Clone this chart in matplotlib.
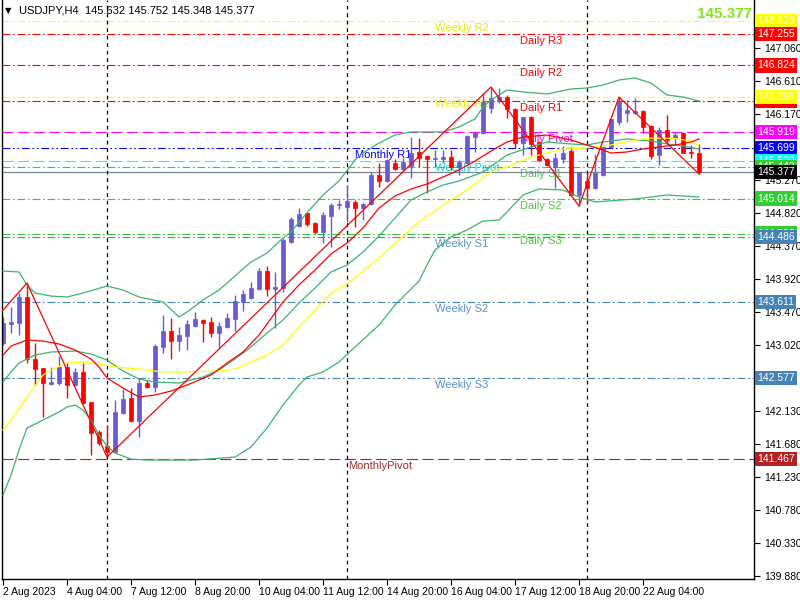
import matplotlib
matplotlib.use('Agg')
import matplotlib.pyplot as plt

plt.rcParams['font.family'] = ['Liberation Sans', 'DejaVu Sans']

# свечи USDJPY H4 слева направо (88 баров, с 2 Aug 20:00)
opens = [143.049, 143.308, 143.321, 143.675, 142.832, 142.709, 142.492, 142.505, 142.723, 142.478,
         142.655, 142.247, 141.839, 141.648, 141.567, 142.097, 142.301, 141.988, 142.505, 142.451,
         142.995, 143.212, 143.076, 143.144, 143.280, 143.362, 143.335, 143.185, 143.267, 143.376,
         143.607, 143.661, 143.784, 144.028, 143.784, 143.797, 144.423, 144.640, 144.817, 144.681,
         144.559, 144.776, 144.926, 144.899, 144.967, 144.885, 144.940, 145.334, 145.252, 145.497,
         145.416, 145.456, 145.647, 145.592, 145.552, 145.552, 145.579, 145.443, 145.497, 145.851,
         145.905, 146.245, 146.354, 146.395, 146.232, 145.769, 146.123, 145.783, 145.552, 145.443,
         145.552, 145.660, 145.062, 145.252, 145.157, 145.334, 145.715, 146.055, 146.177, 146.177,
         146.204, 146.000, 145.606, 145.946, 145.837, 145.905, 145.647, 145.632]
highs = [143.403, 143.539, 143.729, 143.865, 143.049, 142.709, 142.723, 142.872, 142.777, 142.709,
         142.777, 142.247, 141.866, 141.934, 142.274, 142.424, 142.437, 142.573, 142.546, 143.036,
         143.430, 143.389, 143.267, 143.362, 143.471, 143.376, 143.403, 143.335, 143.457, 143.702,
         143.770, 143.879, 144.069, 144.096, 144.015, 144.477, 144.763, 144.885, 144.831, 144.695,
         144.831, 144.953, 144.994, 145.198, 144.994, 144.953, 145.375, 145.497, 145.552, 145.552,
         145.565, 145.851, 145.837, 145.606, 145.674, 145.674, 145.674, 145.538, 145.878, 145.919,
         146.449, 146.531, 146.517, 146.422, 146.245, 146.123, 146.136, 145.796, 145.565, 145.633,
         145.728, 145.715, 145.375, 145.361, 145.620, 145.715, 146.096, 146.395, 146.354, 146.381,
         146.218, 146.014, 145.987, 146.150, 145.919, 145.919, 145.742, 145.752]
lows = [143.022, 143.185, 143.158, 142.777, 142.478, 142.043, 142.478, 142.478, 142.301, 142.464,
        142.233, 141.526, 141.662, 141.499, 141.553, 142.084, 141.975, 141.771, 142.437, 142.383,
        142.913, 142.832, 142.940, 142.954, 143.267, 143.063, 143.131, 142.981, 143.253, 143.212,
        143.484, 143.648, 143.770, 143.688, 143.253, 143.743, 144.409, 144.627, 144.640, 144.532,
        144.409, 144.355, 144.872, 144.695, 144.627, 144.722, 144.926, 145.171, 145.239, 145.402,
        145.402, 145.293, 145.443, 145.089, 145.443, 145.497, 145.402, 145.334, 145.484, 145.647,
        145.892, 146.177, 146.313, 146.109, 145.701, 145.606, 145.606, 145.524, 145.456, 145.157,
        145.497, 145.062, 144.912, 144.953, 145.144, 145.320, 145.701, 146.014, 146.055, 146.164,
        145.905, 145.552, 145.470, 145.769, 145.742, 145.633, 145.565, 145.348]
closes = [143.321, 143.335, 143.675, 142.832, 142.696, 142.505, 142.519, 142.723, 142.478, 142.655,
          142.233, 141.825, 141.689, 141.567, 142.111, 142.288, 141.988, 142.505, 142.451, 143.008,
          143.212, 143.076, 143.158, 143.308, 143.376, 143.321, 143.185, 143.280, 143.389, 143.620,
          143.716, 143.797, 144.028, 143.784, 143.811, 144.450, 144.736, 144.804, 144.668, 144.559,
          144.790, 144.926, 144.940, 144.980, 144.885, 144.940, 145.334, 145.252, 145.538, 145.416,
          145.511, 145.633, 145.565, 145.552, 145.565, 145.579, 145.443, 145.511, 145.864, 145.905,
          146.327, 146.381, 146.395, 146.232, 145.769, 146.123, 145.756, 145.538, 145.470, 145.565,
          145.633, 145.062, 145.375, 145.157, 145.361, 145.715, 146.096, 146.327, 146.218, 146.204,
          145.987, 145.592, 145.946, 145.810, 145.878, 145.633, 145.633, 145.377]

# подписи времени и разделители недель (номера баров)
time_label_bars = [0, 8, 16, 24, 32, 40, 48, 56, 64, 72, 80]
time_labels = ['2 Aug 2023', '4 Aug 04:00', '7 Aug 12:00', '8 Aug 20:00', '10 Aug 04:00',
               '11 Aug 12:00', '14 Aug 20:00', '16 Aug 04:00', '17 Aug 12:00', '18 Aug 20:00',
               '22 Aug 04:00']
week_start_bars = [13, 43, 73]

# индикаторы: номер бара -> цена
bb_upper_bars = [0, 2, 3, 4, 6, 8, 10, 13, 15, 17, 20, 22, 23, 25, 27, 29, 31, 33, 35, 36,
                 38, 40, 42, 44, 45, 47, 49, 51, 53, 55, 57, 59, 60, 61, 62, 63, 65, 68, 71, 73,
                 75, 77, 79, 81, 83, 85, 87]
bb_upper = [144.028, 144.015, 143.838, 143.729, 143.688, 143.675, 143.729, 143.824, 143.770, 143.675,
            143.607, 143.403, 143.471, 143.634, 143.770, 143.960, 144.151, 144.273, 144.477, 144.559,
            144.821, 145.062, 145.252, 145.538, 145.633, 145.769, 145.878, 145.919, 145.919, 145.919,
            145.987, 146.096, 146.259, 146.354, 146.422, 146.490, 146.463, 146.436, 146.504, 146.517,
            146.558, 146.626, 146.653, 146.585, 146.422, 146.395, 146.340]
bb_lower_bars = [0, 1, 2, 3, 5, 7, 8, 9, 10, 11, 12, 13, 14, 16, 18, 24, 29, 31, 33, 35,
                 37, 38, 40, 42, 44, 47, 49, 52, 53, 54, 56, 58, 60, 62, 63, 65, 67, 70, 72, 74,
                 79, 83, 87]
bb_lower = [140.982, 141.254, 141.594, 141.893, 142.002, 142.111, 142.179, 142.206, 142.138, 142.002,
            141.798, 141.648, 141.553, 141.470, 141.458, 141.458, 141.499, 141.635, 141.893, 142.206,
            142.478, 142.587, 142.655, 142.791, 142.995, 143.294, 143.566, 143.892, 144.110, 144.314,
            144.491, 144.586, 144.708, 144.722, 144.831, 145.062, 145.144, 145.130, 145.035, 144.967,
            145.008, 145.062, 145.035]
bb_mid_bars = [0, 1, 2, 4, 6, 9, 11, 13, 15, 17, 19, 22, 25, 27, 29, 31, 33, 35, 37, 39,
               41, 43, 45, 47, 49, 51, 53, 55, 57, 60, 63, 66, 68, 71, 73, 75, 78, 81, 83, 85, 87]
bb_mid = [142.519, 142.655, 142.777, 142.886, 142.927, 142.940, 142.900, 142.818, 142.668, 142.560,
          142.519, 142.505, 142.587, 142.682, 142.832, 142.995, 143.185, 143.362, 143.593, 143.797,
          144.015, 144.110, 144.287, 144.504, 144.749, 144.994, 145.103, 145.198, 145.252, 145.375,
          145.606, 145.715, 145.783, 145.756, 145.742, 145.783, 145.824, 145.796, 145.756, 145.728,
          145.688]
ma_red_bars = [0, 1, 3, 5, 7, 9, 11, 12, 13, 15, 17, 19, 21, 23, 26, 28, 30, 32, 34, 35,
               37, 39, 41, 43, 45, 47, 49, 51, 53, 55, 57, 59, 61, 63, 65, 68, 71, 73, 75, 76,
               78, 80, 82, 84, 86, 87]
ma_red = [142.886, 143.008, 143.090, 143.076, 143.036, 142.954, 142.832, 142.723, 142.573, 142.437,
          142.315, 142.342, 142.396, 142.478, 142.614, 142.777, 142.927, 143.158, 143.457, 143.607,
          143.838, 144.042, 144.260, 144.409, 144.613, 144.885, 145.048, 145.144, 145.212, 145.307,
          145.402, 145.524, 145.660, 145.783, 145.851, 145.878, 145.810, 145.742, 145.674, 145.633,
          145.647, 145.688, 145.715, 145.742, 145.783, 145.824]
ma_yellow_bars = [0, 1, 3, 5, 6, 8, 10, 12, 14, 17, 20, 22, 27, 29, 31, 33, 35, 37, 39, 41,
                  43, 45, 47, 50, 52, 55, 58, 61, 64, 66, 70, 73, 76, 79, 81, 84, 86, 87]
ma_yellow = [141.866, 142.002, 142.315, 142.614, 142.682, 142.777, 142.791, 142.764, 142.723, 142.696,
             142.655, 142.655, 142.668, 142.696, 142.791, 142.886, 143.022, 143.267, 143.498, 143.729,
             143.852, 144.028, 144.205, 144.504, 144.695, 144.926, 145.130, 145.375, 145.484, 145.579,
             145.688, 145.701, 145.742, 145.810, 145.837, 145.830, 145.796, 145.728]
zigzag_bars = [-1, 3, 13, 61, 72, 77, 87]
zigzag_prices = [143.376, 143.865, 141.499, 146.531, 144.912, 146.395, 145.348]

# уровни пивотов
level_names = ['Weekly R2', 'Daily R3', 'Daily R2', 'Daily R1', 'Weekly R1', 'Daily Pivot',
               'Monthly R1', 'Weekly Pivot', 'Daily S1', 'Daily S2', 'Daily S3', 'Weekly S1',
               'Weekly S2', 'Weekly S3', 'MonthlyPivot']
level_prices = [147.429, 147.255, 146.824, 146.338, 146.395, 145.919, 145.699, 145.520, 145.443,
                145.014, 144.538, 144.486, 143.611, 142.577, 141.467]
last_price = 145.377
price_ticks = [147.510, 147.060, 146.610, 146.170, 145.720, 145.270, 144.820, 144.370, 143.920,
               143.470, 143.020, 142.570, 142.130, 141.680, 141.230, 140.780, 140.330, 139.880]
# эти подписи шкалы закрыты метками уровней
hidden_ticks = [147.510, 145.720, 142.570]

# стиль для каждого вида уровня: цвет линии, стиль, цвет текста, x подписи
dashdot = (0, (7, 2.5, 1.5, 2.5))
dashdotdot = (0, (7, 2.5, 1.5, 2.5, 1.5, 2.5))
dashed = (0, (10, 4))
style = {
    'Weekly R': ('#FFFF00', dashdot, '#E8E800', 54),
    'Daily R': ('#FF0000', dashdot, '#FF0000', 64.6),
    'Daily Pivot': ('#FF00FF', dashed, '#FF00FF', 64.6),
    'Monthly R1': ('#0000FF', dashdotdot, '#0000FF', 44),
    'Weekly Pivot': ('#00FFFF', dashed, '#00E0E0', 54),
    'Daily S': ('#32CD32', dashdot, '#4CC83A', 64.6),
    'Weekly S': ('#4682B4', dashdot, '#5B8FC9', 54),
    'MonthlyPivot': ('#B22222', dashed, '#A52A2A', 43.1),
}

fig = plt.figure(figsize=(8, 6), dpi=100)
ax = fig.add_axes([2 / 800, 21 / 600, 752 / 800, 579 / 600])
ax.set_xlim(-0.125, 93.875)
ax.set_ylim(139.840, 147.714)

# уровни
for name, price in zip(level_names, level_prices):
    key = name
    for k in style:
        if name.startswith(k):
            key = k
    lc, ls, tc, tx = style[key]
    ax.axhline(price, color=lc, ls=ls, lw=0.8, zorder=1)
    ax.annotate(name, (tx, price), xytext=(0, -1.5), textcoords='offset points',
                ha='left', va='top', fontsize=8, color=tc, zorder=1)
    ax.text(1.004, price, '%.3f' % price, transform=ax.get_yaxis_transform(),
            ha='left', va='center', fontsize=7.5, color='white', clip_on=False, zorder=5,
            bbox=dict(boxstyle='square,pad=0.2', fc=lc, ec='none'))

# текущая цена
ax.axhline(last_price, color='#778899', lw=0.9, zorder=1)
ax.text(1.004, last_price, '%.3f' % last_price, transform=ax.get_yaxis_transform(),
        ha='left', va='center', fontsize=7.5, color='white', clip_on=False, zorder=6,
        bbox=dict(boxstyle='square,pad=0.2', fc='black', ec='none'))

# разделители недель
for b in week_start_bars:
    ax.axvline(b, color='black', ls=(0, (3, 3)), lw=0.9, zorder=1.5)

# свечи
for i in range(len(opens)):
    o, h, l, c = opens[i], highs[i], lows[i], closes[i]
    col = '#6A5ACD' if c > o else '#FF0000'
    ax.vlines(i, l, h, color=col, lw=1, zorder=2)
    ax.bar(i, max(abs(c - o), 0.004), bottom=min(o, c), width=0.58, color=col,
           edgecolor=col, lw=0.5, zorder=2)

# индикаторы
ax.plot(bb_upper_bars, bb_upper, color='#3CB371', lw=0.9, zorder=3)
ax.plot(bb_lower_bars, bb_lower, color='#3CB371', lw=0.9, zorder=3)
ax.plot(bb_mid_bars, bb_mid, color='#3CB371', lw=0.9, zorder=3)
ax.plot(ma_yellow_bars, ma_yellow, color='#FFFF00', lw=0.9, zorder=3)
ax.plot(ma_red_bars, ma_red, color='#FF0000', lw=0.9, zorder=3)
ax.plot(zigzag_bars, zigzag_prices, color='#FF0000', lw=0.9, zorder=3)

# оси
ax.yaxis.tick_right()
ax.set_yticks(price_ticks)
ax.set_yticklabels(['' if p in hidden_ticks else '%.3f' % p for p in price_ticks])
ax.tick_params(axis='y', length=4, pad=3, labelsize=7.5, colors='black')
ax.set_xticks(time_label_bars)
ax.set_xticklabels(time_labels)
for lab in ax.get_xticklabels():
    lab.set_horizontalalignment('left')
ax.tick_params(axis='x', length=4, pad=2, labelsize=7.5, colors='black')
ax.spines['top'].set_visible(False)
for s in ['left', 'right', 'bottom']:
    ax.spines[s].set_color('black')
    ax.spines[s].set_linewidth(1)

# заголовок и большая цена
ax.text(0.004, 0.982, '\u25bc', transform=ax.transAxes, fontsize=6, va='center',
        ha='left', color='black', family=['DejaVu Sans'], zorder=7)
ax.text(0.022, 0.982, 'USDJPY,H4  145.632 145.752 145.348 145.377', transform=ax.transAxes,
        fontsize=8, va='center', ha='left', color='black', zorder=7)
ax.text(0.997, 0.976, '%.3f' % last_price, transform=ax.transAxes, fontsize=11,
        fontweight='bold', va='center', ha='right', color='#7FE817', zorder=7)

fig.savefig('out.png', dpi=100)
